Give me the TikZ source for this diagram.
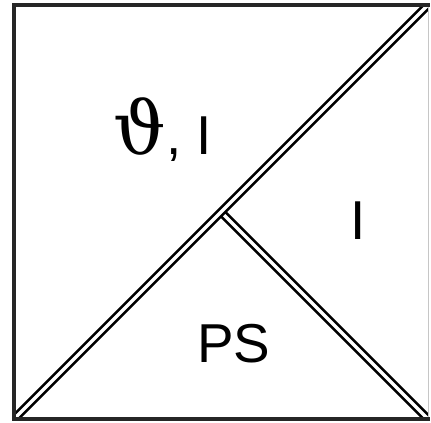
\documentclass[tikz,border=0pt]{standalone}
\usepackage{fontspec}
\setsansfont{Liberation Sans}
\newfontfamily\thetafont{DejaVu Serif}
\begin{document}
\begin{tikzpicture}[x=1bp,y=1bp,
  dbl/.style={line width=2.8bp,double=white,double distance=3.2bp,draw=black},
  edge/.style={line width=3.2bp,draw=black!85},
  lbl/.style={inner sep=0pt,font=\sffamily\fontsize{55}{55}\selectfont}]
\useasboundingbox (0,0) rectangle (431,423);
\coordinate (bl) at (14,4);
\coordinate (tr) at (428,418);
\coordinate (br) at (428,4);
\coordinate (tl) at (14,418);
\coordinate (c) at (221,211);
\begin{scope}
\clip (bl) rectangle (tr);
\draw[dbl] (c) -- (br);
\draw[dbl] (bl) -- (tr);
\end{scope}
\draw[gray!45,line width=0.8bp] (br) -- (tr);
\draw[edge,line cap=rect] (br) -- (bl) -- (tl) -- (tr);
\node[lbl,anchor=base west] (th) at (113,269) {{\thetafont\fontsize{74}{74}\selectfont ϑ}};
\node[lbl,anchor=base west] (ci) at (th.base east) {, I};
\node[lbl,anchor=base] (right) at (358,184) {I};
\node[lbl,anchor=base] (ps) at (234,61) {PS};
\end{tikzpicture}
\end{document}
